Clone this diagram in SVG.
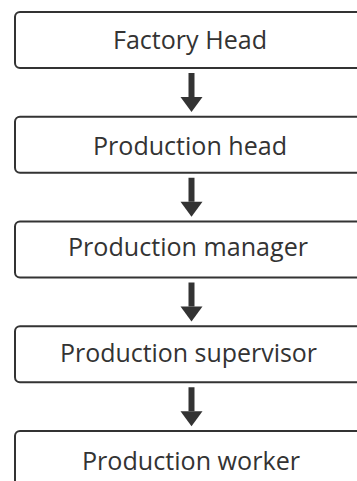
<svg xmlns="http://www.w3.org/2000/svg" width="357" height="481" viewBox="0 0 357 481">
<style>
.box{fill:#ffffff;stroke:#333333;stroke-width:2}
.lbl{font-family:"Open Sans","Lato",sans-serif;font-size:26px;fill:#333333;text-anchor:middle}
.conn{stroke:#333333;stroke-width:6;fill:none}
</style>
<defs>
<marker id="ah" markerUnits="userSpaceOnUse" markerWidth="15" markerHeight="22" refX="0" refY="11" orient="auto" overflow="visible">
<path d="M0,0 L15,11 L0,22 Z" fill="#333333"/>
</marker>
</defs>
<rect width="357" height="481" fill="#ffffff"/>
<g id="n1"><rect class="box" x="15" y="12" width="353" height="56" rx="5"/><text class="lbl" x="190" y="48.5" textLength="154" lengthAdjust="spacingAndGlyphs">Factory Head</text></g>
<g id="n2"><rect class="box" x="15" y="116.75" width="353" height="56" rx="5"/><text class="lbl" x="190" y="155" textLength="194" lengthAdjust="spacingAndGlyphs">Production head</text></g>
<g id="n3"><rect class="box" x="15" y="221.5" width="353" height="56" rx="5"/><text class="lbl" x="188" y="256" textLength="240" lengthAdjust="spacingAndGlyphs">Production manager</text></g>
<g id="n4"><rect class="box" x="15" y="326.25" width="353" height="56" rx="5"/><text class="lbl" x="188.5" y="361.5" textLength="257" lengthAdjust="spacingAndGlyphs">Production supervisor</text></g>
<g id="n5"><rect class="box" x="15" y="431" width="353" height="56" rx="5"/><text class="lbl" x="191" y="470" textLength="218" lengthAdjust="spacingAndGlyphs">Production worker</text></g>
<g id="connectors">
<line class="conn" x1="191.5" y1="73" x2="191.5" y2="97" marker-end="url(#ah)"/>
<line class="conn" x1="191.5" y1="177.75" x2="191.5" y2="201.75" marker-end="url(#ah)"/>
<line class="conn" x1="191.5" y1="282.5" x2="191.5" y2="306.5" marker-end="url(#ah)"/>
<line class="conn" x1="191.5" y1="387.25" x2="191.5" y2="411.25" marker-end="url(#ah)"/>
</g>
</svg>
